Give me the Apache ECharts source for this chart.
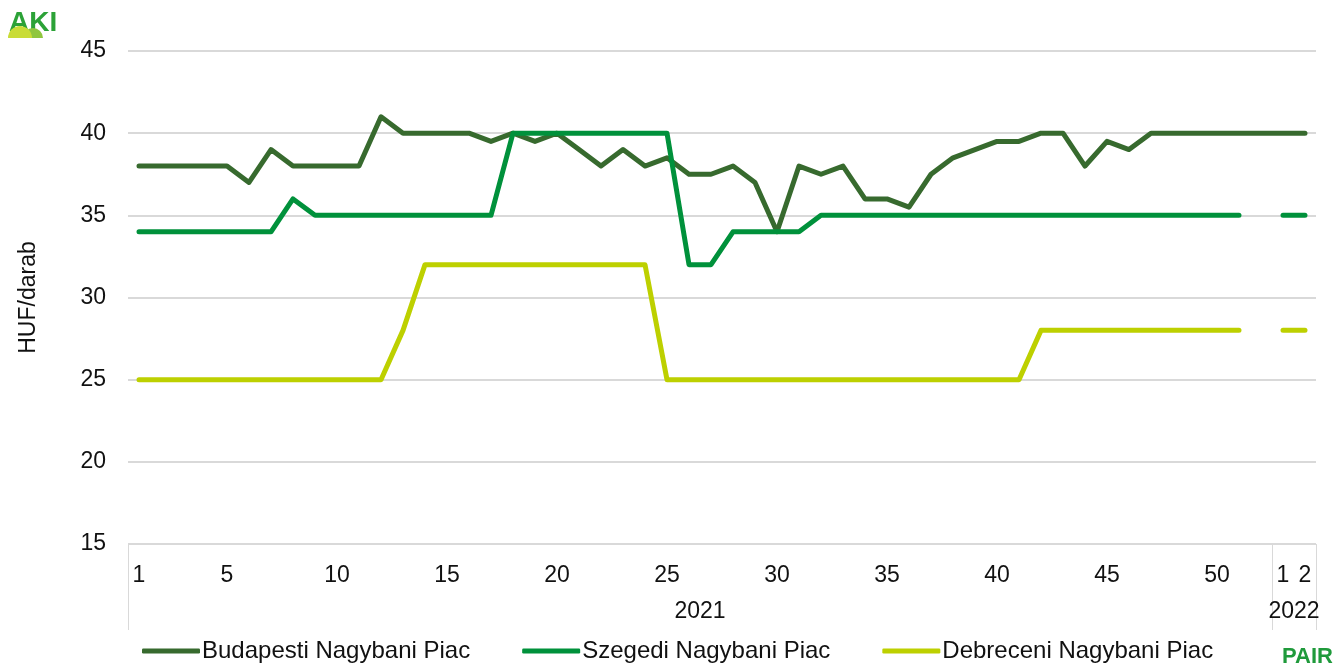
<!DOCTYPE html>
<html>
<head>
<meta charset="utf-8">
<script src="https://cdn.jsdelivr.net/npm/echarts@6/dist/echarts.min.js"></script>
<style>
    html, body { margin: 0; padding: 0; background: #fff; }
    #chart_price { width: 1336px; height: 668px; }
</style>
</head>
<body>
<div id="chart_price"></div>
<script>
var weeks2021 = [1, 2, 3, 4, 5, 6, 7, 8, 9, 10, 11, 12, 13, 14, 15, 16, 17, 18, 19, 20,
    21, 22, 23, 24, 25, 26, 27, 28, 29, 30, 31, 32, 33, 34, 35, 36, 37, 38, 39, 40,
    41, 42, 43, 44, 45, 46, 47, 48, 49, 50, 51, 52];
var weeks2022 = [1, 2];
var years = ['2021', '2022'];
var shownWeeks = [1, 5, 10, 15, 20, 25, 30, 35, 40, 45, 50];

var seriesNames = ['Budapesti Nagybani Piac', 'Szegedi Nagybani Piac', 'Debreceni Nagybani Piac'];

// HUF/darab, 2021 hetek 1-52, majd 2022 1-2
var budapest = [38, 38, 38, 38, 38, 37, 39, 38, 38, 38, 38, 41, 40, 40, 40, 40,
    39.5, 40, 39.5, 40, 39, 38, 39, 38, 38.5, 37.5, 37.5, 38, 37, 34,
    38, 37.5, 38, 36, 36, 35.5, 37.5, 38.5, 39, 39.5, 39.5, 40, 40, 38, 39.5, 39,
    40, 40, 40, 40, 40, 40,
    40, 40];
var szeged = [34, 34, 34, 34, 34, 34, 34, 36, 35, 35, 35, 35, 35, 35, 35, 35, 35,
    40, 40, 40, 40, 40, 40, 40, 40, 32, 32, 34, 34, 34, 34,
    35, 35, 35, 35, 35, 35, 35, 35, 35, 35, 35, 35, 35, 35, 35, 35, 35, 35, 35, 35,
    null,
    35, 35];
var debrecen = [25, 25, 25, 25, 25, 25, 25, 25, 25, 25, 25, 25, 28,
    32, 32, 32, 32, 32, 32, 32, 32, 32, 32, 32,
    25, 25, 25, 25, 25, 25, 25, 25, 25, 25, 25, 25, 25, 25, 25, 25, 25,
    28, 28, 28, 28, 28, 28, 28, 28, 28, 28,
    null,
    28, 28];

var colors = ['#376a2e', '#00913b', '#bdd000'];

(function () {
    "use strict";
    var font = "'Liberation Sans', Arial, sans-serif";

    // kategoriak: ev-het
    var categories = [];
    for (var i = 0; i < weeks2021.length; i++) categories.push(years[0] + '-' + weeks2021[i]);
    for (var j = 0; j < weeks2022.length; j++) categories.push(years[1] + '-' + weeks2022[j]);

    var n2021 = weeks2021.length;
    var total = categories.length;

    var dom = document.getElementById("chart_price");
    var myChart = echarts.init(dom);

    function makeSeries(idx, data) {
        return {
            name: seriesNames[idx],
            type: 'line',
            data: data,
            symbol: 'none',
            connectNulls: false,
            color: colors[idx],
            lineStyle: { width: 5, color: colors[idx], cap: 'round', join: 'round' },
            emphasis: { disabled: true },
            animation: false
        };
    }

    var option = {
        animation: false,
        textStyle: { fontFamily: font },
        grid: { left: 128, right: 20, top: 51, bottom: 124, containLabel: false },
        xAxis: [
            {
                type: 'category',
                data: categories,
                boundaryGap: true,
                axisLine: { show: false },
                axisTick: { show: false },
                axisLabel: {
                    color: '#111',
                    fontSize: 23,
                    margin: 20,
                    interval: function (index) {
                        if (index >= n2021) return true;
                        return shownWeeks.indexOf(weeks2021[index]) >= 0;
                    },
                    formatter: function (v) { return v.split('-')[1]; }
                }
            },
            {
                type: 'value',
                min: 0,
                max: total,
                position: 'bottom',
                axisLine: { show: false },
                splitLine: { show: false },
                axisTick: {
                    show: true,
                    length: 86,
                    customValues: [0, n2021, total],
                    lineStyle: { color: '#d9d9d9', width: 1 }
                },
                axisLabel: {
                    color: '#111',
                    fontSize: 23,
                    margin: 56,
                    customValues: [n2021 / 2, n2021 + (total - n2021) / 2],
                    formatter: function (v) { return v < n2021 ? years[0] : years[1]; }
                }
            }
        ],
        yAxis: {
            type: 'value',
            min: 15,
            max: 45,
            interval: 5,
            name: 'HUF/darab',
            nameLocation: 'middle',
            nameRotate: 90,
            nameGap: 88,
            nameTextStyle: { color: '#111', fontSize: 23 },
            axisLine: { show: false },
            axisTick: { show: false },
            axisLabel: { color: '#111', fontSize: 23, margin: 22 },
            splitLine: { lineStyle: { color: '#d9d9d9', width: 2 } }
        },
        legend: {
            data: seriesNames,
            bottom: 0,
            left: 137,
            itemWidth: 58,
            itemHeight: 5,
            itemGap: 52,
            icon: 'roundRect',
            textStyle: { color: '#111', fontSize: 24, padding: [0, 0, 0, -3] }
        },
        graphic: [
            {
                type: 'text', left: 9, top: 9,
                style: { text: 'AKI', font: "bold 28px 'Liberation Sans'", fill: '#2ca237' }
            },
            {
                type: 'sector',
                shape: { cx: 33, cy: 38, r0: 0, r: 10, startAngle: Math.PI, endAngle: Math.PI * 2 },
                style: { fill: '#8fc63e' }
            },
            {
                type: 'sector',
                shape: { cx: 20, cy: 38, r0: 0, r: 12, startAngle: Math.PI, endAngle: Math.PI * 2 },
                style: { fill: '#c9dc37' }
            },
            {
                type: 'text', right: 3, bottom: 0,
                style: { text: 'PAIR', font: "bold 22px 'Liberation Sans Narrow', 'Liberation Sans'", fill: '#1f9a3b' }
            }
        ],
        series: [
            makeSeries(0, budapest),
            makeSeries(1, szeged),
            makeSeries(2, debrecen)
        ]
    };

    myChart.setOption(option, true);
})();
</script>
</body>
</html>
